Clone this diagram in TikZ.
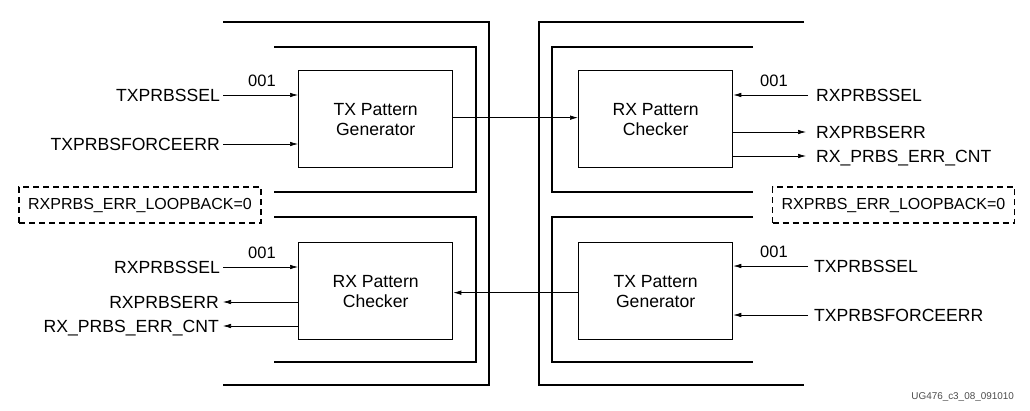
\documentclass[tikz,border=0pt]{standalone}
\usepackage{fontspec}
\setmainfont{Liberation Sans}
\usetikzlibrary{arrows.meta}
\begin{document}
\begin{tikzpicture}[x=1pt,y=-1pt,
  blk/.style={draw,line width=1.3pt,minimum width=154pt,minimum height=97pt,anchor=north west,align=center,inner sep=0pt,font=\fontsize{17.6pt}{20pt}\selectfont},
  lab/.style={inner sep=0pt,text height=12.6pt,text depth=0pt,font=\fontsize{17.6pt}{20pt}\selectfont},
  num/.style={inner sep=0pt,font=\fontsize{16.5pt}{18pt}\selectfont},
  sig/.style={line width=0.7pt,-{Latex[length=8pt,width=4.5pt]}},
  brk/.style={line width=1.4pt},
  dbox/.style={draw,dash pattern=on 6pt off 4pt,line width=1.1pt,minimum width=242pt,minimum height=36pt,inner sep=0pt,font=\fontsize{16pt}{18pt}\selectfont}
]
\useasboundingbox (0,0) rectangle (1030,410);
% brackets
\draw[brk] (223,22) -- (489,22) -- (489,385) -- (223,385);
\draw[brk] (274,47) -- (476,47) -- (476,192) -- (274,192);
\draw[brk] (274,217) -- (476,217) -- (476,362) -- (274,362);
\draw[brk] (804,22) -- (539,22) -- (539,385) -- (804,385);
\draw[brk] (753,47) -- (552,47) -- (552,192) -- (753,192);
\draw[brk] (753,217) -- (552,217) -- (552,362) -- (753,362);
% blocks
\node[blk] (txg1) at (298,70) {TX Pattern\\Generator};
\node[blk] (rxc1) at (298,242) {RX Pattern\\Checker};
\node[blk] (rxc2) at (578,70) {RX Pattern\\Checker};
\node[blk] (txg2) at (578,242) {TX Pattern\\Generator};
% dashed boxes
\node[dbox] (lb1) at (140,205) {RXPRBS\_ERR\_LOOPBACK=0};
\node[dbox] (lb2) at (893.5,205) {RXPRBS\_ERR\_LOOPBACK=0};
% left top
\node[lab,anchor=east] (l1) at (220,95) {TXPRBSSEL};
\node[lab,anchor=east] (l2) at (220,144) {TXPRBSFORCEERR};
\node[num] (n1) at (262,81) {001};
\draw[sig] ([xshift=3pt]l1.east) -- (l1.east -| txg1.west);
\draw[sig] ([xshift=3pt]l2.east) -- (l2.east -| txg1.west);
% left bottom
\node[lab,anchor=east] (l3) at (220,267) {RXPRBSSEL};
\node[lab,anchor=east] (l4) at (219,302) {RXPRBSERR};
\node[lab,anchor=east] (l5) at (219,326) {RX\_PRBS\_ERR\_CNT};
\node[num] (n2) at (262,253) {001};
\draw[sig] ([xshift=3pt]l3.east) -- (l3.east -| rxc1.west);
\draw[sig] (l4.east -| rxc1.west) -- ([xshift=4pt]l4.east);
\draw[sig] (l5.east -| rxc1.west) -- ([xshift=4pt]l5.east);
% right top
\node[lab,anchor=west] (r1) at (816,95) {RXPRBSSEL};
\node[lab,anchor=west] (r2) at (816,132) {RXPRBSERR};
\node[lab,anchor=west] (r3) at (816,156) {RX\_PRBS\_ERR\_CNT};
\node[num] (n3) at (774,81) {001};
\draw[sig] ([xshift=-8pt]r1.west) -- (r1.west -| rxc2.east);
\draw[sig] (r2.west -| rxc2.east) -- ([xshift=-10pt]r2.west);
\draw[sig] (r3.west -| rxc2.east) -- ([xshift=-10pt]r3.west);
% right bottom
\node[lab,anchor=west] (r4) at (814,266) {TXPRBSSEL};
\node[lab,anchor=west] (r5) at (814,315) {TXPRBSFORCEERR};
\node[num] (n4) at (774,252) {001};
\draw[sig] ([xshift=-6pt]r4.west) -- (r4.west -| txg2.east);
\draw[sig] ([xshift=-6pt]r5.west) -- (r5.west -| txg2.east);
% cross links
\coordinate (c1) at ([yshift=1.5pt]txg1.east);
\draw[sig] (c1) -- (c1 -| rxc2.west);
\coordinate (c2) at ([yshift=-1.5pt]txg2.west);
\draw[sig] (c2) -- (c2 -| rxc1.east);
% id
\node[inner sep=0pt,anchor=east,text=black!70,font=\fontsize{9.9pt}{11pt}\selectfont] (id) at (1014,397) {UG476\_c3\_08\_091010};
\end{tikzpicture}
\end{document}
